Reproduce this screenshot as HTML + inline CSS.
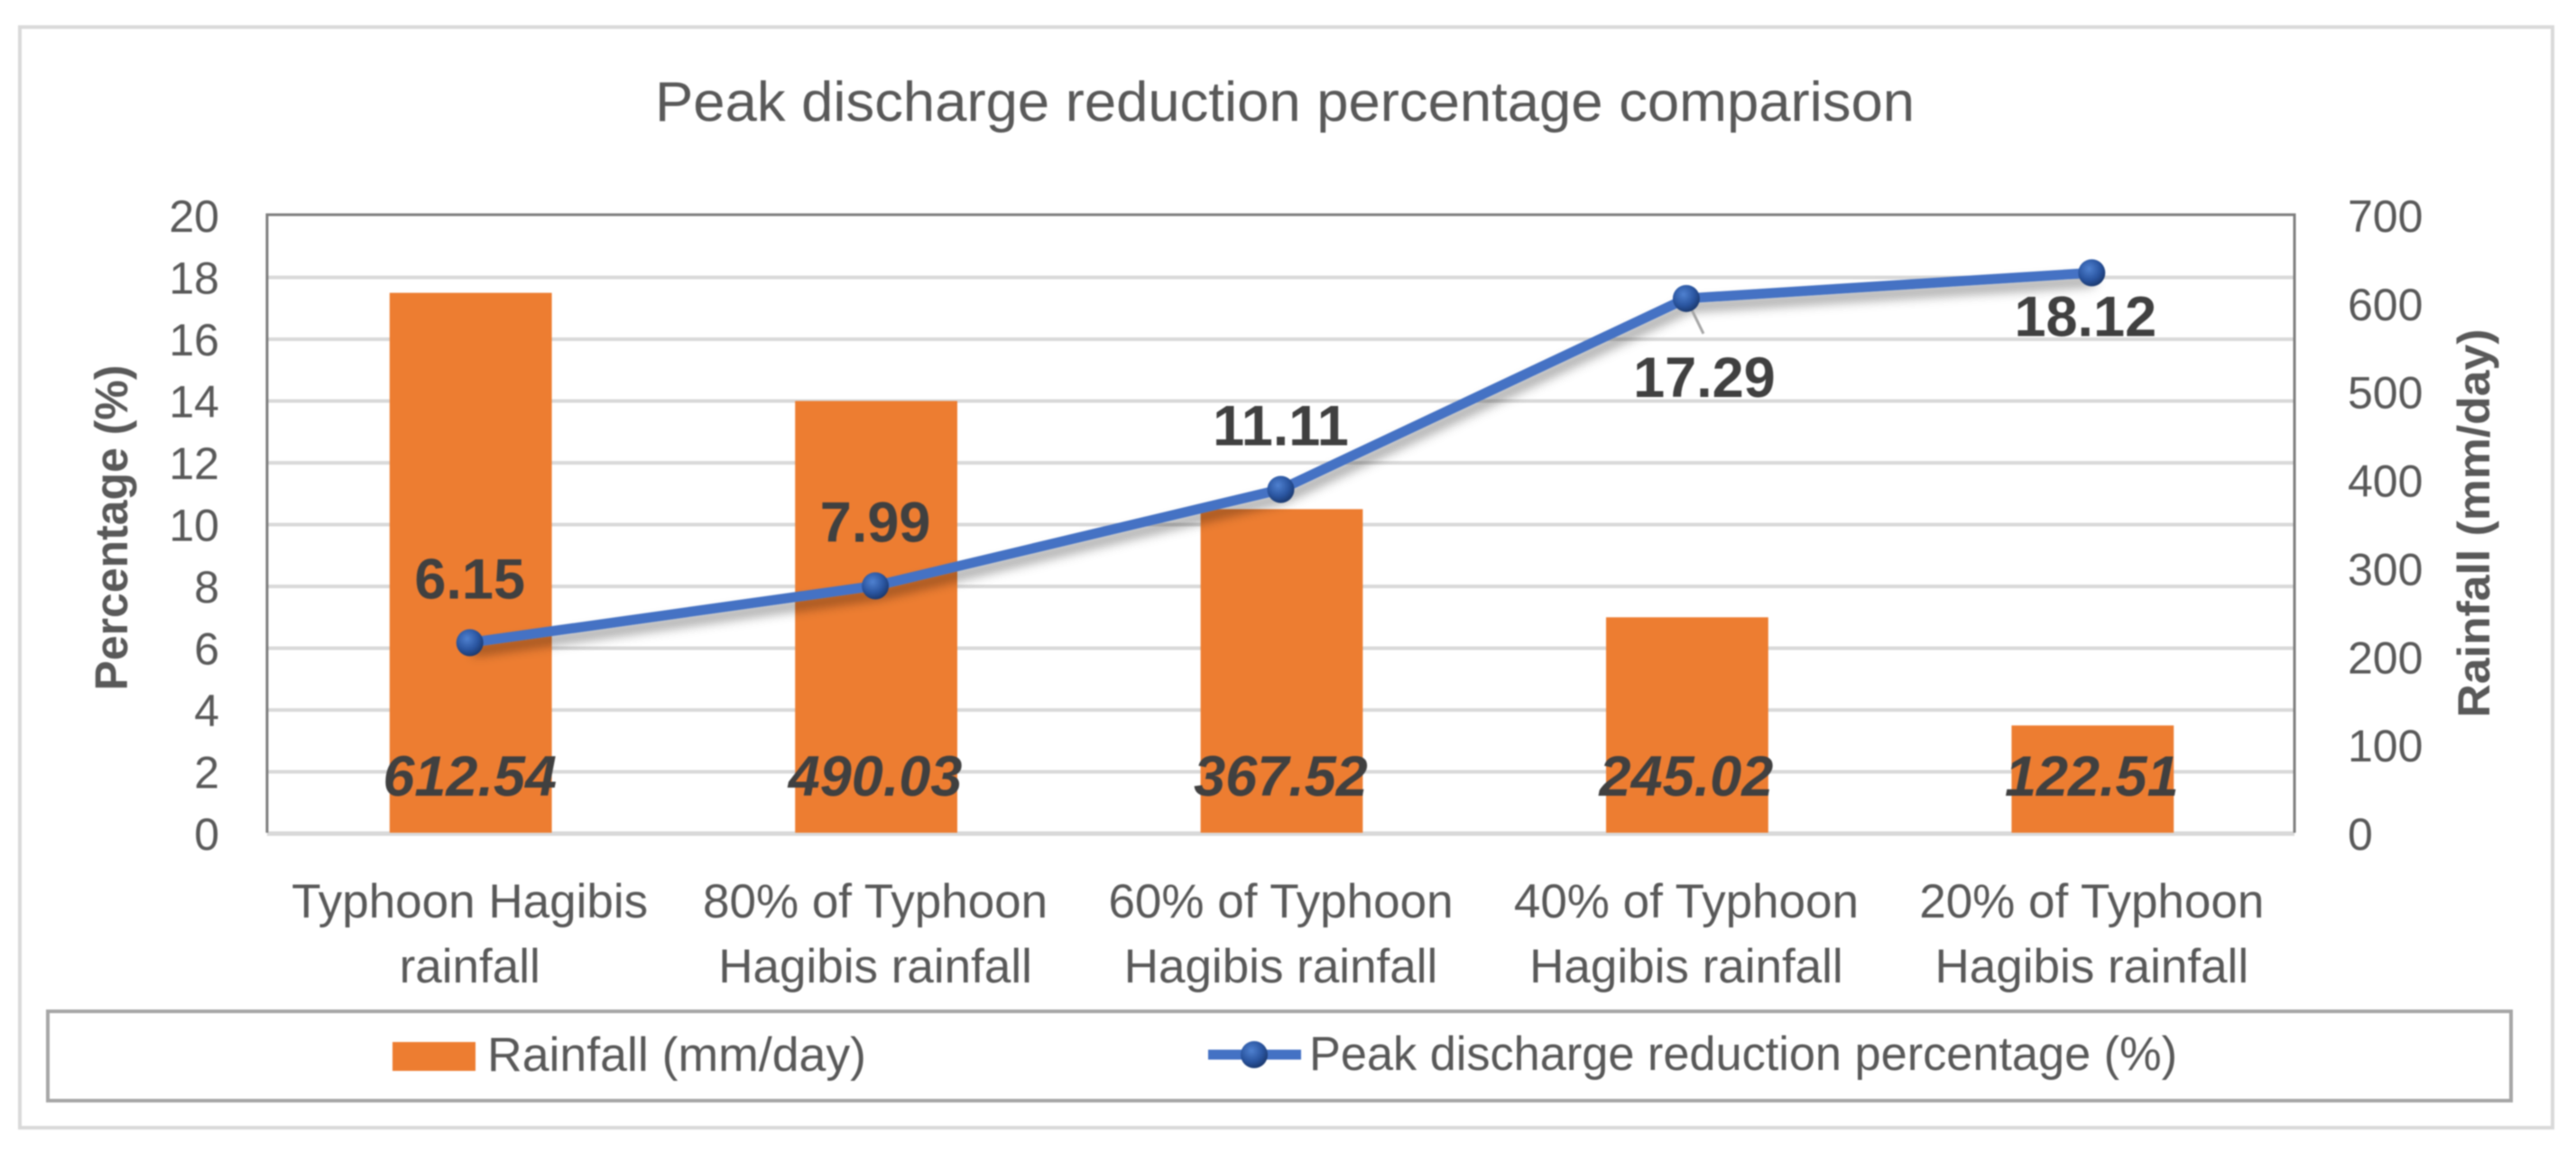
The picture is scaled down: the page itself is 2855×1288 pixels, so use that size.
<!DOCTYPE html>
<html lang="en">
<head>
<meta charset="utf-8">
<title>Peak discharge reduction percentage comparison</title>
<style>
html,body{margin:0;padding:0;background:#fff;width:2855px;height:1288px;overflow:hidden}
svg{display:block;font-family:"Liberation Sans",sans-serif;filter:blur(0.9px)}
</style>
</head>
<body>
<svg id="chart" xmlns="http://www.w3.org/2000/svg" width="2855" height="1288" viewBox="0 0 2855 1288">
  <defs>
    <radialGradient id="markerFill" cx="0.4" cy="0.35" r="0.75">
      <stop offset="0" stop-color="#4f81d0"/>
      <stop offset="0.55" stop-color="#2a55a0"/>
      <stop offset="1" stop-color="#16305f"/>
    </radialGradient>
    <filter id="softShadow" x="-10%" y="-30%" width="120%" height="170%">
      <feDropShadow dx="3" dy="9" stdDeviation="6" flood-color="#000" flood-opacity="0.38"/>
    </filter>
  </defs>
  <rect x="0" y="0" width="2855" height="1288" fill="#ffffff"/>
  <rect x="22" y="30" width="2807" height="1220" fill="#ffffff" stroke="#d9d9d9" stroke-width="4"/>
  <text x="726" y="134" font-size="62" fill="#595959" textLength="1396" lengthAdjust="spacingAndGlyphs">Peak discharge reduction percentage comparison</text>
  <text transform="translate(141,585) rotate(-90)" text-anchor="middle" font-size="51" font-weight="bold" fill="#595959" textLength="361" lengthAdjust="spacingAndGlyphs">Percentage (%)</text>
  <text transform="translate(2759,580) rotate(-90)" text-anchor="middle" font-size="50" font-weight="bold" fill="#595959" textLength="431" lengthAdjust="spacingAndGlyphs">Rainfall (mm/day)</text>
  <g id="plot"></g>
  <rect x="53" y="1121" width="2730" height="99" fill="none" stroke="#a6a6a6" stroke-width="4"/>
  <rect x="435" y="1155" width="92" height="32" fill="#ed7d31"/>
  <text x="540" y="1187" font-size="53" fill="#595959" textLength="420" lengthAdjust="spacingAndGlyphs">Rainfall (mm/day)</text>
  <line x1="1339" y1="1169" x2="1442" y2="1169" stroke="#4472c4" stroke-width="11"/>
  <circle cx="1390" cy="1169" r="15" fill="url(#markerFill)"/>
  <text x="1451" y="1186" font-size="53" fill="#595959" textLength="962" lengthAdjust="spacingAndGlyphs">Peak discharge reduction percentage (%)</text>
</svg>
<script>
const categoriesLine1 = ['Typhoon Hagibis', '80% of Typhoon', '60% of Typhoon', '40% of Typhoon', '20% of Typhoon'];
const categoriesLine2 = ['rainfall', 'Hagibis rainfall', 'Hagibis rainfall', 'Hagibis rainfall', 'Hagibis rainfall'];
const rainfallValues = [612.54, 490.03, 367.52, 245.02, 122.51];
const reductionValues = [6.15, 7.99, 11.11, 17.29, 18.12];
const reductionLabelPlacement = ['above', 'above', 'above', 'leader', 'below'];
const leftTickLabels = [0, 2, 4, 6, 8, 10, 12, 14, 16, 18, 20];
const rightTickLabels = [0, 100, 200, 300, 400, 500, 600, 700];

const NS = 'http://www.w3.org/2000/svg';
const plot = document.getElementById('plot');
const plotLeft = 296, plotRight = 2543, plotTop = 238, plotBottom = 923;
const leftMax = 20, rightMax = 700;
const step = (plotRight - plotLeft) / categoriesLine1.length;
const barWidth = step / 2.5;

function xScale(i) { return plotLeft + (i + 0.5) * step; }
function yLeft(v) { return plotBottom - (v / leftMax) * (plotBottom - plotTop); }
function yRight(v) { return plotBottom - (v / rightMax) * (plotBottom - plotTop); }
function make(tag, attrs, text) {
  const el = document.createElementNS(NS, tag);
  for (const k in attrs) el.setAttribute(k, attrs[k]);
  if (text !== undefined) el.textContent = text;
  plot.appendChild(el);
  return el;
}

leftTickLabels.forEach(function (t) {
  if (t > 0 && t < leftMax) {
    const grid = make('line', { x1: plotLeft, x2: plotRight, y1: yLeft(t) + 1, y2: yLeft(t) + 1, stroke: '#d9d9d9', 'stroke-width': 4 });
    
    
  }
  const label = make('text', { x: 243, y: yLeft(t) + 19, 'text-anchor': 'end', 'font-size': 50, fill: '#595959' }, String(t));
  
  
});

rightTickLabels.forEach(function (t) {
  const label = make('text', { x: 2602, y: yRight(t) + 19, 'font-size': 50, fill: '#595959' }, String(t));
  
  
});

const baseline = make('line', { x1: plotLeft, x2: plotRight, y1: plotBottom + 1, y2: plotBottom + 1, stroke: '#d9d9d9', 'stroke-width': 5 });



const border = make('path', { d: 'M' + plotLeft + ' ' + plotBottom + 'V' + plotTop + 'H' + plotRight + 'V' + plotBottom, fill: 'none', stroke: '#7f7f7f', 'stroke-width': 3 });



rainfallValues.forEach(function (v, i) {
  const bar = make('rect', { x: xScale(i) - barWidth / 2 + 1, y: yRight(v) + 1, width: barWidth, height: plotBottom - yRight(v) - 1, fill: '#ed7d31' });
  
  
});

categoriesLine1.forEach(function (c, i) {
  const first = make('text', { x: xScale(i), y: 1017, 'text-anchor': 'middle', 'font-size': 53, fill: '#595959' }, c);
  
  
  const second = make('text', { x: xScale(i), y: 1089, 'text-anchor': 'middle', 'font-size': 53, fill: '#595959' }, categoriesLine2[i]);
  
  
});

const linePoints = reductionValues.map(function (v, i) { return xScale(i) + ',' + yLeft(v); }).join(' ');
const line = make('polyline', { points: linePoints, fill: 'none', stroke: '#4472c4', 'stroke-width': 11, 'stroke-linejoin': 'round', filter: 'url(#softShadow)' });



reductionValues.forEach(function (v, i) {
  const placement = reductionLabelPlacement[i];
  const px = xScale(i), py = yLeft(v);
  if (placement === 'leader') {
    const leader = make('line', { x1: px, y1: py, x2: px + 19, y2: py + 39, stroke: '#a6a6a6', 'stroke-width': 3 });
    
    
  }
  const marker = make('circle', { cx: px, cy: py, r: 15, fill: 'url(#markerFill)' });
  
  
  const dx = placement === 'leader' ? 20 : placement === 'below' ? -7 : 0;
  const dy = placement === 'leader' ? 109 : placement === 'below' ? 70 : -49;
  const label = make('text', { x: px + dx, y: py + dy, 'text-anchor': 'middle', 'font-size': 63, 'font-weight': 'bold', fill: '#404040' }, v.toFixed(2));
  
  
});

rainfallValues.forEach(function (v, i) {
  const label = make('text', { x: xScale(i), y: 882, 'text-anchor': 'middle', 'font-size': 63, 'font-weight': 'bold', 'font-style': 'italic', fill: '#404040' }, v.toFixed(2));
  
  
});
</script>
</body>
</html>
